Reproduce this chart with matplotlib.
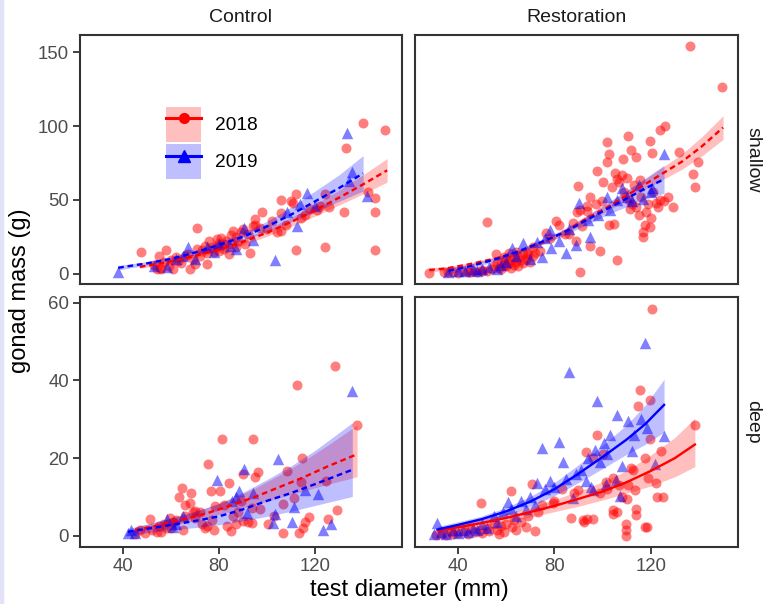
import numpy as np
import matplotlib.pyplot as plt
from matplotlib.lines import Line2D
from matplotlib.patches import Patch, Rectangle
from matplotlib.legend_handler import HandlerTuple

plt.rcParams['font.family'] = ['Liberation Sans', 'DejaVu Sans']

# ================= data =================
# points are (test diameter mm, gonad mass g)

# ---- Control / shallow ----
ctrl_shallow_2018 = [
    (47.5, 14.5), (53, 6), (54, 3), (55, 12), (55.5, 4), (56, 3), (57, 8), (58, 16), (59, 5), (60, 9),
    (61, 3), (62, 11), (63, 8.8), (64, 7), (66, 12), (67, 13), (68, 3), (69, 10), (70, 6.6), (71, 31),
    (71, 17), (72, 12), (73, 16), (74, 19), (75, 6.6), (75, 14), (76, 22), (77, 18), (78, 15), (79, 23.5),
    (79, 19), (80, 21), (80, 15.6), (81, 24), (82, 17), (82, 20), (83, 22), (84, 13.3), (85, 26), (85, 20),
    (86, 29), (87, 18), (87, 25), (88, 22), (89, 28), (90, 30), (91, 20), (92, 27), (93, 14), (94, 32),
    (95, 37), (95, 33), (97, 31), (98, 42), (100, 30), (102, 36), (104, 28), (106, 41), (106, 29), (106, 50),
    (108, 33), (110, 49), (111, 48), (112, 54), (112, 16), (114, 38), (116, 40), (118, 44), (121, 43), (122, 46),
    (124, 54), (124, 18), (126, 45), (132, 42), (133, 85), (140, 102), (142, 55), (145, 51), (145, 42), (145, 16),
    (149, 97),
]
ctrl_shallow_2019 = [
    (38, 1.4), (53, 5), (58.5, 4.3), (62, 10), (65, 12.2), (67.2, 18.3), (70, 10), (74.9, 17.9), (78, 15), (80, 20),
    (84.6, 18.8), (87, 17), (90.5, 31), (94.3, 22.5), (103.3, 9), (108.2, 41.6), (112.4, 32), (113.8, 47.2),
    (116.5, 54.5), (120, 46), (133.5, 95), (134, 62.5), (135.3, 68.7), (141.5, 52.9),
]
cs18_x = [47, 60, 70, 80, 90, 100, 110, 120, 130, 140, 150]
cs18_y = [4.6, 8.3, 12, 16.3, 21.5, 27.8, 35, 43, 51.5, 60.5, 70]
cs18_lo = [3.6, 7.1, 10.5, 14.5, 19.5, 25.3, 32, 39, 46.5, 54, 62]
cs18_hi = [5.6, 9.5, 13.5, 18.1, 23.5, 30.3, 38, 47, 56.5, 67, 78]
cs19_x = [38, 50, 60, 70, 80, 90, 100, 110, 120, 130, 140]
cs19_y = [4, 7, 10, 14.3, 19.5, 25, 32, 40, 49, 58, 68]
cs19_lo = [2.5, 5.8, 8.8, 12.8, 17.5, 22.5, 28.5, 35, 42, 49, 56]
cs19_hi = [5.5, 8.2, 11.2, 15.8, 21.5, 27.5, 35.5, 45, 56, 67, 80]

# ---- Restoration / shallow ----
rest_shallow_2018 = [
    (28, 0.3), (34, 0.9), (36, 0.8), (38, 1), (40, 0.5), (42, 1.5), (44, 0.8), (45, 1.2), (46, 2), (48, 1),
    (50, 1.6), (50, 2.5), (52, 1.5), (52, 35.2), (54, 3), (55, 5), (55.6, 13.3), (56, 7), (57, 4), (58, 8),
    (58, 3), (59, 6), (59, 11), (60, 10), (60, 5), (61, 7), (61, 14), (62, 4), (62, 9), (63, 11),
    (63, 6), (64, 8), (64, 15), (65, 12), (65, 5), (66, 9), (67, 7), (67, 13), (68, 10), (68.5, 13.1),
    (69, 13), (70, 8), (71, 12), (71.1, 18.3), (72, 14), (73.9, 15.5), (76.6, 27.3), (78, 24), (80.8, 35.9), (82, 33),
    (84.5, 26.9), (86, 27), (87.7, 34), (88.8, 22), (89.3, 41.6), (89.6, 59.6), (90.4, 43.2), (90.7, 1.4), (91.5, 32),
    (93.4, 46), (93.4, 42.7), (94.8, 19), (94.8, 52.2), (97.2, 47), (97.6, 69.8), (99, 15.6), (99.7, 49.3), (100, 62),
    (101.7, 89), (101.7, 75.8), (102.8, 81.1), (102.8, 33), (103.8, 58.5), (104.6, 33.5), (105, 68), (105.8, 9.3),
    (106, 64), (107, 62), (108, 67), (108.6, 77.5), (109, 55), (110, 65), (110.7, 93.5), (111, 50), (111.4, 43.8),
    (111.6, 83.8), (112, 47), (113, 60), (113.7, 79.3), (114, 45), (115, 40), (115.5, 63.7), (116, 52), (116.6, 24.7),
    (116.9, 28), (117.5, 33), (118, 42), (119, 47), (119.6, 90.1), (119.6, 31.4), (120, 38), (120.6, 81.8), (121, 55),
    (122, 48), (123, 45), (124, 97.2), (124, 50), (125.5, 49), (125.8, 99.9), (127, 52), (129.3, 45), (131.6, 82.7),
    (136.4, 154), (137.5, 67.5), (138.5, 59), (139.6, 75.5), (149.5, 126.3),
]
rest_shallow_2019 = [
    (36, 1.4), (40, 2), (43, 1.5), (46, 3), (48, 2), (50, 3.5), (53, 4.5), (56, 3), (58, 6), (60, 8),
    (62.2, 17.2), (64, 12), (67, 20.6), (70, 10), (72.8, 21.7), (74.8, 11.1), (76, 24), (78, 29.6), (78.7, 17.2),
    (82, 22), (84.6, 13.8), (86, 30), (89, 19.4), (90, 48.1), (93.9, 36.4), (94.8, 24.7), (98, 40), (101.7, 51.8),
    (103, 43), (106, 50), (107.9, 58), (110, 52), (112, 49), (115, 60), (116.9, 50.6), (120, 55), (120.7, 58.3),
    (125.5, 80.9),
]
rs18_x = [28, 35, 45, 56, 65, 74, 84, 93, 102, 110, 118, 125, 133, 141, 150]
rs18_y = [2.5, 3.5, 6.5, 10.5, 15, 20.5, 28, 37, 45, 53, 61, 68, 76, 86, 99]
rs18_lo = [1, 2.3, 5.5, 9.5, 14, 19.3, 26.5, 35, 42.5, 50, 57.5, 63.8, 70.8, 79.5, 91]
rs18_hi = [4, 4.7, 7.5, 11.5, 16, 21.7, 29.5, 39, 47.5, 56, 64.5, 72.2, 81.2, 92.5, 107]
rs19_x = [36, 45, 56, 65, 74, 84, 93, 102, 110, 118, 125.5]
rs19_y = [2, 5, 10, 15, 21, 28, 36, 44, 51, 58, 64]
rs19_lo = [0, 3.5, 8.7, 13.5, 19.2, 25.8, 33, 40, 45.5, 51, 54.5]
rs19_hi = [4, 6.5, 11.3, 16.5, 22.8, 30.2, 39, 48, 56.5, 65, 73.5]

# ---- Control / deep ----
ctrl_deep_2018 = [
    (45, 0.5), (47, 1.5), (49, 0.8), (51.3, 4.2), (52, 1.5), (54, 1), (55, 2.5), (56, 1), (57, 3), (58, 2),
    (59.6, 4.6), (60, 2), (61, 3.5), (62, 4), (63.3, 10), (64.5, 12.4), (65, 1.6), (66, 5), (66, 8), (67.9, 8.5),
    (68.3, 11.1), (69, 6), (70, 4.5), (70, 6.5), (72, 6), (73, 3), (74, 2), (74.9, 2.5), (75.3, 18.4), (76.5, 11.5),
    (77, 4), (78, 1.5), (78.3, 7.7), (80.4, 11.5), (81.4, 24.8), (82, 8), (83.2, 2.5), (84.3, 13.7), (85, 1.3), (86, 5),
    (87, 3), (88, 6), (89, 9), (90.1, 15.8), (90.1, 3.8), (92, 3.5), (93.6, 7.2), (93.6, 3.2), (94.3, 25), (95, 15.1),
    (96.4, 16.5), (97, 7), (100.5, 3.1), (103, 5), (106.5, 0.6), (106.5, 8.3), (108.5, 16.7), (111.4, 9.8),
    (112.4, 38.8), (113.5, 0.6), (114.2, 13.8), (114.5, 19.9), (115.1, 2.1), (116, 3.5), (117.5, 4.9),
    (124.6, 14.1), (125.3, 4.4), (128.3, 43.7), (129.3, 6.6), (137.4, 28.5),
]
ctrl_deep_2019 = [
    (42.2, 0.6), (43.5, 1.5), (45, 0.8), (58.5, 4.4), (61, 2.2), (62, 3), (65, 5), (79, 14.3), (85.3, 8.9), (87, 10),
    (88.3, 11.5), (90.5, 17.2), (91.5, 5.9), (94, 11.1), (102.3, 3.2), (103.3, 5.5), (104.5, 19.7), (110.4, 3.6),
    (111.3, 7.5), (115.6, 11.7), (121.4, 10.7), (123.5, 1.6), (126.5, 3.1), (135.5, 37.2),
]
cd18_x = [45, 55, 65, 75, 85, 95, 105, 115, 125, 137.5]
cd18_y = [1.5, 2.7, 4.2, 5.8, 7.8, 10, 12.5, 15, 17.8, 21]
cd18_lo = [0.9, 1.9, 3.2, 4.7, 6.3, 8, 9.8, 11.5, 13.2, 15.2]
cd18_hi = [2.3, 3.6, 5.3, 7.2, 9.5, 12.3, 15.6, 19.2, 23.2, 28.5]
cd19_x = [42, 50, 60, 70, 80, 90, 100, 110, 120, 135.5]
cd19_y = [1, 1.8, 2.8, 3.8, 5, 6.8, 9, 11, 13.3, 17]
cd19_lo = [0.3, 0.8, 1.5, 2.1, 2.8, 3.8, 5, 6.3, 7.8, 10.1]
cd19_hi = [1.8, 3, 4.6, 6.3, 8.3, 11.2, 14.5, 18, 22, 29.1]

# ---- Restoration / deep ----
rest_deep_2018 = [
    (31, 0.3), (33, 0.5), (35, 0.3), (37, 1), (38, 0.5), (40, 0.8), (42, 1.2), (44, 0.5), (45, 2), (47, 1),
    (49, 1.5), (49.4, 8.5), (50, 0.8), (52, 2), (53, 1.2), (55, 3), (56, 1.5), (57, 0.5), (58, 2.5), (59, 1),
    (60, 3), (61.8, 11.5), (62.4, 2.2), (63, 4), (64, 1.5), (66, 3.5), (68, 2.3), (69, 5), (70.7, 13.4), (72, 1.2),
    (73, 6), (75, 8), (79.3, 8.5), (80, 9), (83, 12), (87, 4.6), (88.3, 10.9), (89.7, 11.8), (91.8, 4), (92.1, 3.5),
    (93.2, 21.7), (93.7, 4.2), (95.9, 19.9), (96.2, 4.2), (97.6, 25.9), (99, 11.1), (100.3, 21), (101.4, 13.9),
    (102, 12), (104.2, 6.6), (104.5, 15), (104.5, 5.5), (106, 6), (107, 13), (108, 10), (109.7, 0), (109.7, 1.5),
    (109.7, 3), (110, 9.4), (110.7, 13.1), (111.6, 17.5), (112.5, 17), (113.4, 11.7), (113.7, 5.3), (114, 7),
    (114.5, 33.4), (115.5, 37.5), (117.6, 19.9), (117.6, 2.2), (118.5, 2.2), (118.9, 14.8), (119.6, 35), (119.6, 25),
    (120.7, 58.5), (122.2, 13.6), (122.6, 10), (124.4, 21.8), (125, 10), (138.5, 28.5),
]
rest_deep_2019 = [
    (30.1, 0.5), (31.2, 3.4), (33, 1), (35, 0.5), (38, 1.5), (40, 0.8), (42, 1.5), (44, 1), (46, 2), (48, 1.5),
    (50, 3), (52, 2), (54.9, 5.1), (56, 3.5), (58.6, 6), (60.8, 8.8), (62, 7), (64, 5), (66, 9), (68, 7),
    (70, 10), (72, 8), (72.8, 13.7), (74.8, 22.7), (76, 12), (78, 14), (80, 12.5), (81.7, 24.2), (83.6, 19.1),
    (84.9, 14.5), (86, 42.2), (87.6, 9.6), (89, 16), (91.1, 16.9), (93, 14), (94, 20), (95, 12.5), (95.9, 11.8),
    (97, 22), (97.6, 34.7), (99, 19), (100.5, 24), (101.3, 13.3), (102, 21), (103, 26), (105.4, 14.4), (105.8, 31.2),
    (107.2, 10.2), (108, 18), (110.7, 29.6), (112, 21.8), (113, 26), (116, 30), (117.6, 49.7), (118.5, 27.8),
    (121.7, 18.4), (125.4, 25.7),
]
rd18_x = [32, 40, 50, 60, 70, 80, 90, 100, 110, 120, 130, 138.3]
rd18_y = [1.3, 2.2, 3.3, 4.6, 6.1, 7.7, 9.5, 11.4, 13.8, 16.7, 20, 23.5]
rd18_lo = [0.6, 1.4, 2.4, 3.5, 4.8, 6.2, 7.6, 9.2, 11, 12.8, 15.2, 17.8]
rd18_hi = [2.0, 3.0, 4.2, 5.7, 7.4, 9.3, 11.5, 13.9, 16.8, 20.8, 25.3, 30.3]
rd19_x = [31.4, 40, 50, 60, 70, 80, 90, 100, 110, 117.6, 125.5]
rd19_y = [1.6, 2.8, 4.3, 6.3, 8.8, 12, 16, 20.3, 24.8, 28.7, 33.7]
rd19_lo = [0.8, 2, 3.5, 5.3, 7.5, 10.3, 13.7, 17.3, 21, 23.5, 26.7]
rd19_hi = [2.4, 3.6, 5.1, 7.3, 10.1, 13.7, 18.3, 23.3, 28.6, 33.6, 40.3]

col_labels = ['Control', 'Restoration']
row_labels = ['shallow', 'deep']
year_labels = ['2018', '2019']
x_ticks = [40, 80, 120]
y_ticks = [[0, 50, 100, 150], [0, 20, 40, 60]]

# ================= drawing =================
RED = '#FF0000'
BLUE = '#0000FF'
W, H = 765, 604

fig = plt.figure(figsize=(W / 100, H / 100), dpi=100)
fig.patches.append(Rectangle((0, 0), 2.5 / W, 1, transform=fig.transFigure,
                             color='#E2E2F8', zorder=0))

# panel boxes in pixels (left, top, right, bottom)
col_px = [(80, 402), (415, 738)]
row_px = [(35, 284), (297, 547)]
ylims = [(-7.0, 161.7), (-2.9, 61.5)]

dash = (0, (2.4, 1.6))
panels = [
    [(ctrl_shallow_2018, ctrl_shallow_2019,
      (cs18_x, cs18_y, cs18_lo, cs18_hi), (cs19_x, cs19_y, cs19_lo, cs19_hi), dash),
     (rest_shallow_2018, rest_shallow_2019,
      (rs18_x, rs18_y, rs18_lo, rs18_hi), (rs19_x, rs19_y, rs19_lo, rs19_hi), dash)],
    [(ctrl_deep_2018, ctrl_deep_2019,
      (cd18_x, cd18_y, cd18_lo, cd18_hi), (cd19_x, cd19_y, cd19_lo, cd19_hi), dash),
     (rest_deep_2018, rest_deep_2019,
      (rd18_x, rd18_y, rd18_lo, rd18_hi), (rd19_x, rd19_y, rd19_lo, rd19_hi), '-')],
]

axes = [[None, None], [None, None]]
for r in range(2):
    for c in range(2):
        l, rr = col_px[c]
        t, b = row_px[r]
        ax = fig.add_axes([l / W, 1 - b / H, (rr - l) / W, (b - t) / H])
        axes[r][c] = ax
        p18, p19, f18, f19, ls = panels[r][c]

        # points
        a = np.array(p18)
        ax.scatter(a[:, 0], a[:, 1], s=52, marker='o', color=RED, alpha=0.5,
                   linewidths=0, zorder=2)
        a = np.array(p19)
        ax.scatter(a[:, 0], a[:, 1], s=68, marker='^', color=BLUE, alpha=0.5,
                   linewidths=0, zorder=2)

        # ribbons then fitted lines
        for f, col in ((f18, RED), (f19, BLUE)):
            fx, fy, flo, fhi = f
            ax.fill_between(fx, flo, fhi, color=col, alpha=0.25, linewidth=0, zorder=3)
        for f, col in ((f18, RED), (f19, BLUE)):
            fx, fy, flo, fhi = f
            ax.plot(fx, fy, color=col, lw=1.7, linestyle=ls, zorder=4)

        ax.set_xlim(22.1, 156.2)
        ax.set_ylim(*ylims[r])
        ax.set_xticks(x_ticks)
        ax.set_yticks(y_ticks[r])
        for sp in ax.spines.values():
            sp.set_color('#333333')
            sp.set_linewidth(1.5)
        ax.tick_params(length=5, width=1.3, color='#333333', labelcolor='#4D4D4D',
                       labelsize=13.4, pad=3)
        ax.tick_params(axis='x', bottom=(r == 1), labelbottom=(r == 1))
        ax.tick_params(axis='y', left=(c == 0), labelleft=(c == 0))

        if r == 0:
            ax.text(0.5, 1 + 18 / (b - t), col_labels[c], transform=ax.transAxes,
                    ha='center', va='center', fontsize=14, color='#1A1A1A')
        if c == 1:
            ax.text(1 + 15 / (rr - l), 0.5, row_labels[r], transform=ax.transAxes,
                    ha='center', va='center', rotation=-90, fontsize=14, color='#1A1A1A')

# legend inside the Control / shallow panel
h18 = (Patch(facecolor=RED, alpha=0.25, edgecolor='none'),
       Line2D([], [], color=RED, lw=2.2, marker='o', markersize=7))
h19 = (Patch(facecolor=BLUE, alpha=0.25, edgecolor='none'),
       Line2D([], [], color=BLUE, lw=2.2, marker='^', markersize=8))
axes[0][0].legend([h18, h19], year_labels, loc='upper left', bbox_to_anchor=(0.267, 0.712),
                  frameon=False, fontsize=13.8, handlelength=1.85, handleheight=2.43,
                  handletextpad=0.7, labelspacing=0.12, borderpad=0, borderaxespad=0,
                  handler_map={tuple: HandlerTuple(ndivide=1)})

fig.text(409 / W, 1 - 590 / H, 'test diameter (mm)', ha='center', va='center', fontsize=17)
fig.text(20 / W, 1 - 291 / H, 'gonad mass (g)', ha='center', va='center', rotation=90, fontsize=17)

fig.savefig('out.png', dpi=100)
